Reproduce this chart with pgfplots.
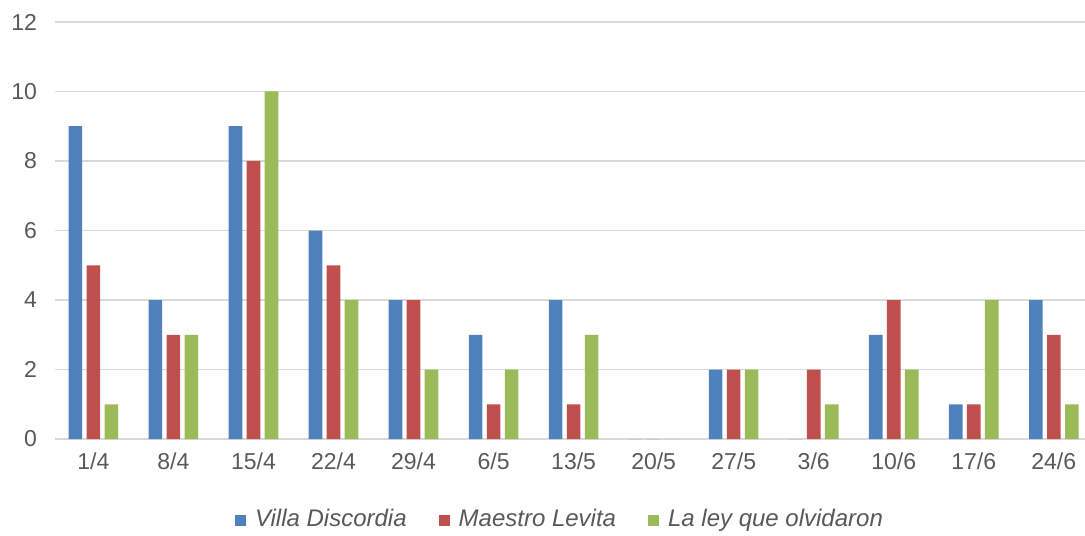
\documentclass[border=0pt]{standalone}
\usepackage{pgfplots}
\pgfplotsset{compat=1.18}
\usepackage{pgfplotstable}
\usepackage{fontspec}
\setmainfont{Liberation Sans}
\definecolor{cblue}{HTML}{4F81BD}
\definecolor{cred}{HTML}{C0504D}
\definecolor{cgreen}{HTML}{9BBB59}
\definecolor{tick}{HTML}{595959}
\definecolor{gridc}{HTML}{D9D9D9}
\pgfplotstableread{
x vd ml ll
0 9 5 1
1 4 3 3
2 9 8 10
3 6 5 4
4 4 4 2
5 3 1 2
6 4 1 3
7 0 0 0
8 2 2 2
9 0 2 1
10 3 4 2
11 1 1 4
12 4 3 1
}\data
\begin{document}
\fontsize{11.5pt}{13pt}\selectfont
\begin{tikzpicture}
\begin{axis}[
  at={(0pt,0pt)}, anchor=south west,
  scale only axis, width=515pt, height=208.5pt,
  ybar=2.2pt, bar width=6.8pt,
  xmin=-0.48, xmax=12.39, ymin=0, ymax=12,
  ytick={0,2,...,12},
  xtick=data,
  xticklabels={1/4,8/4,15/4,22/4,29/4,6/5,13/5,20/5,27/5,3/6,10/6,17/6,24/6},
  major tick length=0pt,
  axis line style={draw=none},
  ymajorgrids, grid style={gridc, line width=0.8pt},
  tick label style={font=\fontsize{11.5pt}{13pt}\selectfont, text=tick},
  /pgf/number format/assume math mode=true,
  yticklabel style={xshift=-5pt},
  xticklabel style={yshift=-3pt},
  legend style={draw=none, at={(253pt,-40.5pt)}, anchor=center,
    font=\fontsize{12pt}{13pt}\selectfont\itshape, text=tick,
    /tikz/every even column/.append style={column sep=14pt}},
  legend columns=3,
  legend image code/.code={\fill[#1] (0pt,-2.75pt) rectangle (5.5pt,2.75pt); \path (8pt,0pt);},
]
\addplot[fill=cblue, draw=none] table[x=x,y=vd]{\data};
\addplot[fill=cred, draw=none] table[x=x,y=ml]{\data};
\addplot[fill=cgreen, draw=none] table[x=x,y=ll]{\data};
\legend{Villa Discordia, Maestro Levita, La ley que olvidaron}
\end{axis}
\pgfresetboundingbox
\path (-27.5pt,-48pt) rectangle (515pt,219.5pt);
\end{tikzpicture}
\end{document}
